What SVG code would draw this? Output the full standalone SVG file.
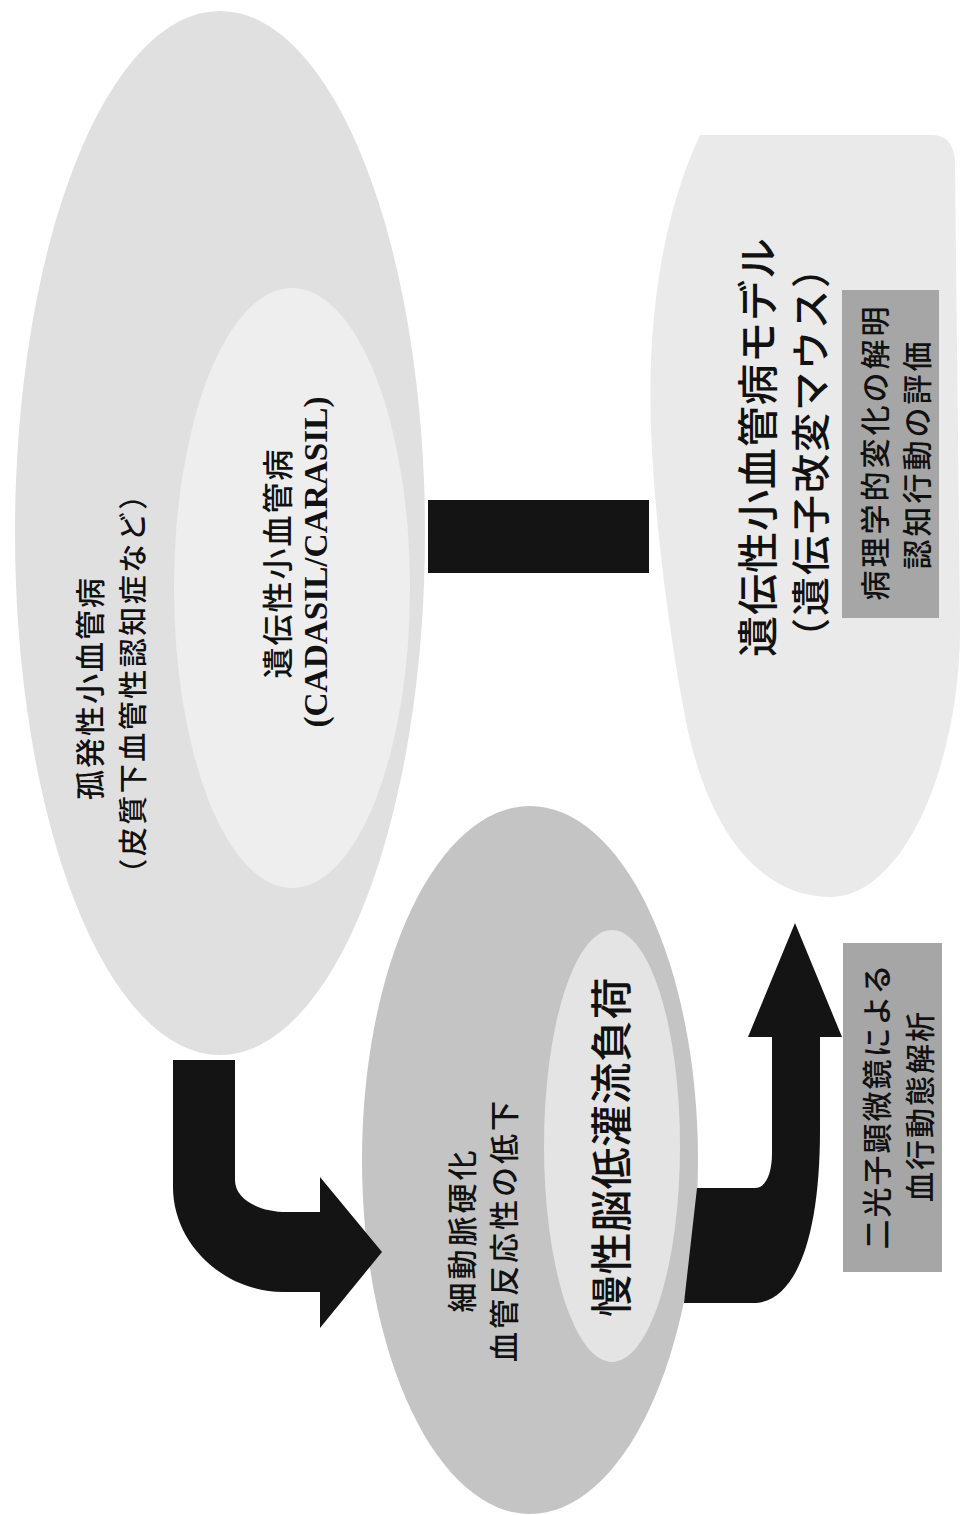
<svg xmlns="http://www.w3.org/2000/svg" width="975" height="1515" viewBox="0 0 975 1515">
<style>
.jp{font-family:"Noto Sans CJK JP","Noto Sans",sans-serif;font-weight:500;fill:#111;dominant-baseline:central;text-anchor:middle}
.en{font-family:"Liberation Serif","Noto Sans CJK JP",serif;font-weight:bold;fill:#111;text-anchor:middle}
.arrow{fill:#141414}
.box{fill:#a6a6a6}
</style>
<rect width="975" height="1515" fill="#ffffff"/>
<g id="sporadic-svd">
<ellipse cx="220" cy="533" rx="205" ry="522" fill="#e0e0e0"/>
<text class="jp" font-size="30" letter-spacing="2" transform="translate(88,688) rotate(-90)">孤発性小血管病</text>
<text class="jp" font-size="29" letter-spacing="2.5" transform="translate(131,683) rotate(-90)">（皮質下血管性認知症など）</text>
</g>
<g id="hereditary-svd">
<ellipse cx="292" cy="588" rx="118" ry="300" fill="#eeeeee"/>
<text class="jp" font-size="31" letter-spacing="2" transform="translate(275,563) rotate(-90)">遺伝性小血管病</text>
<text class="en" font-size="34" textLength="331" lengthAdjust="spacingAndGlyphs" transform="translate(327,562) rotate(-90)">(CADASIL/CARASIL)</text>
</g>
<g id="mouse-model">
<path d="M700,135 L933,135 Q955,136 955,165 L960,620 C962,760 905,897 830,897 C760,897 703,830 682,700 C664,600 647,460 651,360 C655,270 672,195 700,135 Z" fill="#eaeaea"/>
<text class="jp" font-size="41" letter-spacing="1" transform="translate(755,447) rotate(-90)">遺伝性小血管病モデル</text>
<text class="jp" font-size="39" letter-spacing="2" transform="translate(808,452) rotate(-90)">（遺伝子改変マウス）</text>
</g>
<g id="pathology-box">
<rect class="box" x="842" y="290" width="97" height="328"/>
<text class="jp" font-size="30" letter-spacing="3" transform="translate(873,452) rotate(-90)">病理学的変化の解明</text>
<text class="jp" font-size="30" letter-spacing="3" transform="translate(915,454) rotate(-90)">認知行動の評価</text>
</g>
<g id="arteriosclerosis">
<ellipse cx="530" cy="1160" rx="168" ry="354" fill="#c4c4c4"/>
<text class="jp" font-size="30" letter-spacing="3" transform="translate(460,1230) rotate(-90)">細動脈硬化</text>
<text class="jp" font-size="30" letter-spacing="3" transform="translate(502,1230) rotate(-90)">血管反応性の低下</text>
</g>
<g id="hypoperfusion">
<ellipse cx="612" cy="1146" rx="68" ry="216" fill="#e4e4e4"/>
<text class="jp" font-size="42" letter-spacing="0.5" transform="translate(608,1147) rotate(-90)">慢性脳低灌流負荷</text>
</g>
<g id="twophoton-box">
<rect class="box" x="843" y="943" width="99" height="329"/>
<text class="jp" font-size="30" letter-spacing="2" transform="translate(875,1106) rotate(-90)">二光子顕微鏡による</text>
<text class="jp" font-size="30" letter-spacing="2" transform="translate(918,1106) rotate(-90)">血行動態解析</text>
</g>
<g id="connectors">
<rect class="arrow" x="428" y="500" width="221" height="73"/>
<path class="arrow" d="M173,1060 L235,1060 L235,1180 C235,1200 260,1212 287,1212 L320,1212 L320,1177 L382,1252 L320,1328 L320,1292 L283,1292 C225,1292 173,1245 173,1187 Z"/>
<path class="arrow" d="M795,923 L842,1037 L820,1037 L820,1130 C820,1240 795,1303 753,1303 L684,1303 L697,1188 L755,1188 C765,1188 772,1175 772,1153 L772,1037 L748,1037 Z"/>
</g>
</svg>
